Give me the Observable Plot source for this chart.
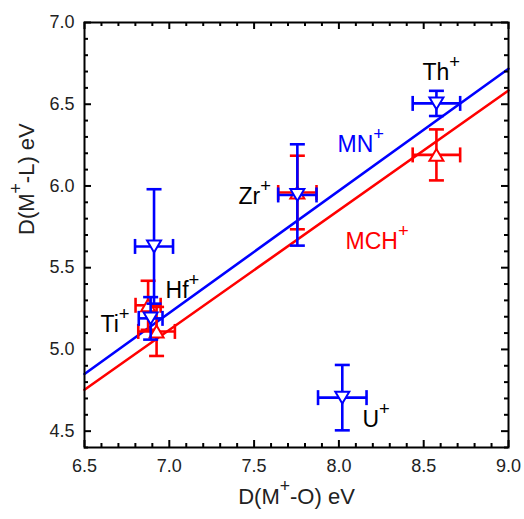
<!DOCTYPE html>
<html>
<head>
<meta charset="utf-8">
<script src="https://cdn.jsdelivr.net/npm/d3@7"></script>
<script src="https://cdn.jsdelivr.net/npm/@observablehq/plot@0.6"></script>
<style>
  html, body { margin: 0; padding: 0; background: white; }
</style>
</head>
<body>
<div id="chart"></div>
<script>
// ---- data ----
const ions = ["Ti", "Zr", "Hf", "Th", "U"];
// MN+ (blue, down triangles)
const mnX  = [6.89, 7.755, 6.91, 8.575, 8.02];
const mnEX = [0.07, 0.113, 0.112, 0.14, 0.143];
const mnY  = [5.19, 5.945, 5.63, 6.505, 4.705];
const mnEY = [0.13, 0.31, 0.35, 0.077, 0.2];
// MCH+ (red, up triangles)
const mchIons = ["Ti", "Zr", "Hf", "Th"];
const mchX  = [6.875, 7.755, 6.925, 8.575];
const mchEX = [0.074, 0.113, 0.108, 0.14];
const mchY  = [5.27, 5.96, 5.11, 6.19];
const mchEY = [0.15, 0.225, 0.15, 0.156];
// linear fits
const fitX   = [6.5, 9.0];
const fitMN  = [4.85, 6.717];
const fitMCH = [4.753, 6.584];
// annotations
const labelText  = ["Th^+", "MN^+", "MCH^+", "Zr^+", "Hf^+", "Ti^+", "U^+"];
const labelX     = [8.493, 7.992, 8.039, 7.408, 6.978, 6.594, 8.139];
const labelY     = [6.694, 6.251, 5.657, 5.936, 5.361, 5.153, 4.572];
const labelColor = ["black", "#0000ff", "#ff0000", "black", "black", "black", "black"];
// ticks
const xMajor = [6.5, 7.0, 7.5, 8.0, 8.5, 9.0];
const yMajor = [4.5, 5.0, 5.5, 6.0, 6.5, 7.0];
const xMinor = [6.6,6.7,6.8,6.9,7.1,7.2,7.3,7.4,7.6,7.7,7.8,7.9,8.1,8.2,8.3,8.4,8.6,8.7,8.8,8.9];
const yMinor = [4.4,4.6,4.7,4.8,4.9,5.1,5.2,5.3,5.4,5.6,5.7,5.8,5.9,6.1,6.2,6.3,6.4,6.6,6.7,6.8,6.9];
const xTitle = "D(M^+-O) eV";
const yTitle = "D(M^+-L) eV";

const BLUE = "#0000ff", RED = "#ff0000";
const mn = ions.map((k, i) => ({ion: k, x: mnX[i], ex: mnEX[i], y: mnY[i], ey: mnEY[i]}));
const mch = mchIons.map((k, i) => ({ion: k, x: mchX[i], ex: mchEX[i], y: mchY[i], ey: mchEY[i]}));
const labels = labelText.map((t, i) => ({t, x: labelX[i], y: labelY[i], c: labelColor[i]}));

// custom symbols
const rOf = size => Math.sqrt(size / Math.PI);
const hCap = {draw(ctx, size) { const r = rOf(size); ctx.moveTo(-r, 0); ctx.lineTo(r, 0); }};
const vCap = {draw(ctx, size) { const r = rOf(size); ctx.moveTo(0, -r); ctx.lineTo(0, r); }};
const triUp = {draw(ctx, size) { const r = rOf(size), h = r * 1.7;
  ctx.moveTo(0, -h / 2); ctx.lineTo(r, h / 2); ctx.lineTo(-r, h / 2); ctx.closePath(); }};
const triDown = {draw(ctx, size) { const r = rOf(size), h = r * 1.7;
  ctx.moveTo(0, h / 2); ctx.lineTo(r, -h / 2); ctx.lineTo(-r, -h / 2); ctx.closePath(); }};

const W = 524, H = 519, mT = 22, mR = 16, mB = 72, mL = 84;
const pW = W - mL - mR, pH = H - mT - mB;
const SW = 2.6, CAP = 7.5;

function series(data, color, sym) {
  return [
    Plot.link(data, {x1: "x", x2: "x", y1: d => d.y - d.ey, y2: d => d.y + d.ey, stroke: color, strokeWidth: SW}),
    Plot.link(data, {y1: "y", y2: "y", x1: d => d.x - d.ex, x2: d => d.x + d.ex, stroke: color, strokeWidth: SW}),
    Plot.dot(data, {x: "x", y: d => d.y - d.ey, symbol: hCap, r: CAP, stroke: color, strokeWidth: SW, fill: "none"}),
    Plot.dot(data, {x: "x", y: d => d.y + d.ey, symbol: hCap, r: CAP, stroke: color, strokeWidth: SW, fill: "none"}),
    Plot.dot(data, {x: d => d.x - d.ex, y: "y", symbol: vCap, r: CAP, stroke: color, strokeWidth: SW, fill: "none"}),
    Plot.dot(data, {x: d => d.x + d.ex, y: "y", symbol: vCap, r: CAP, stroke: color, strokeWidth: SW, fill: "none"}),
    Plot.dot(data, {x: "x", y: "y", symbol: sym, r: 7, stroke: color, strokeWidth: 2, fill: "white"})
  ];
}

const chart = Plot.plot({
  width: W, height: H,
  marginTop: mT, marginRight: mR, marginBottom: mB, marginLeft: mL,
  x: {domain: [6.5, 9.0]},
  y: {domain: [4.4, 7.0]},
  style: {fontFamily: "'Liberation Sans', Arial, sans-serif", background: "white", color: "black"},
  marks: [
    Plot.line(fitX, {x: d => d, y: (d, i) => fitMCH[i], stroke: RED, strokeWidth: 2.6}),
    Plot.line(fitX, {x: d => d, y: (d, i) => fitMN[i], stroke: BLUE, strokeWidth: 2.6}),
    ...series(mch, RED, triUp),
    ...series(mn, BLUE, triDown),
    Plot.text(labels, {x: "x", y: "y", text: "t", fill: "c", textAnchor: "start", fontSize: 23}),
    Plot.frame({stroke: "black", strokeWidth: 2}),
    // inward ticks on all four sides
    Plot.tickX(xMajor, {x: d => d, insetTop: pH - 7, stroke: "black", strokeWidth: 2}),
    Plot.tickX(xMajor, {x: d => d, insetBottom: pH - 7, stroke: "black", strokeWidth: 2}),
    Plot.tickX(xMinor, {x: d => d, insetTop: pH - 4, stroke: "black", strokeWidth: 2}),
    Plot.tickX(xMinor, {x: d => d, insetBottom: pH - 4, stroke: "black", strokeWidth: 2}),
    Plot.tickY(yMajor, {y: d => d, insetRight: pW - 7, stroke: "black", strokeWidth: 2}),
    Plot.tickY(yMajor, {y: d => d, insetLeft: pW - 7, stroke: "black", strokeWidth: 2}),
    Plot.tickY(yMinor, {y: d => d, insetRight: pW - 4, stroke: "black", strokeWidth: 2}),
    Plot.tickY(yMinor, {y: d => d, insetLeft: pW - 4, stroke: "black", strokeWidth: 2}),
    Plot.axisX({ticks: xMajor, tickSize: 0, tickPadding: 12, tickFormat: d3.format(".1f"), fontSize: 18, label: null, fill: "#222"}),
    Plot.axisY({ticks: yMajor, tickSize: 0, tickPadding: 10, tickFormat: d3.format(".1f"), fontSize: 18, label: null, fill: "#222"}),
    Plot.text([xTitle], {frameAnchor: "bottom", dy: 56, fontSize: 22, fill: "#222"}),
    Plot.text([yTitle], {frameAnchor: "left", dx: -58, rotate: -90, fontSize: 22, fill: "#222"})
  ]
});

document.getElementById("chart").appendChild(chart);

// turn "X^+" into real superscript tspans
chart.querySelectorAll("text").forEach(t => {
  const s = t.textContent;
  const m = s.match(/^(.*?)\^(.)(.*)$/);
  if (!m) return;
  const fs = parseFloat(getComputedStyle(t).fontSize) || 22;
  const NS = "http://www.w3.org/2000/svg";
  t.textContent = "";
  const a = document.createElementNS(NS, "tspan"); a.textContent = m[1]; t.appendChild(a);
  const b = document.createElementNS(NS, "tspan"); b.textContent = m[2];
  b.setAttribute("font-size", (fs * 0.8).toFixed(1));
  b.setAttribute("dy", (-fs * 0.52).toFixed(1));
  t.appendChild(b);
  if (m[3]) {
    const c = document.createElementNS(NS, "tspan"); c.textContent = m[3];
    c.setAttribute("dy", (fs * 0.52).toFixed(1));
    t.appendChild(c);
  }
});
</script>
</body>
</html>
